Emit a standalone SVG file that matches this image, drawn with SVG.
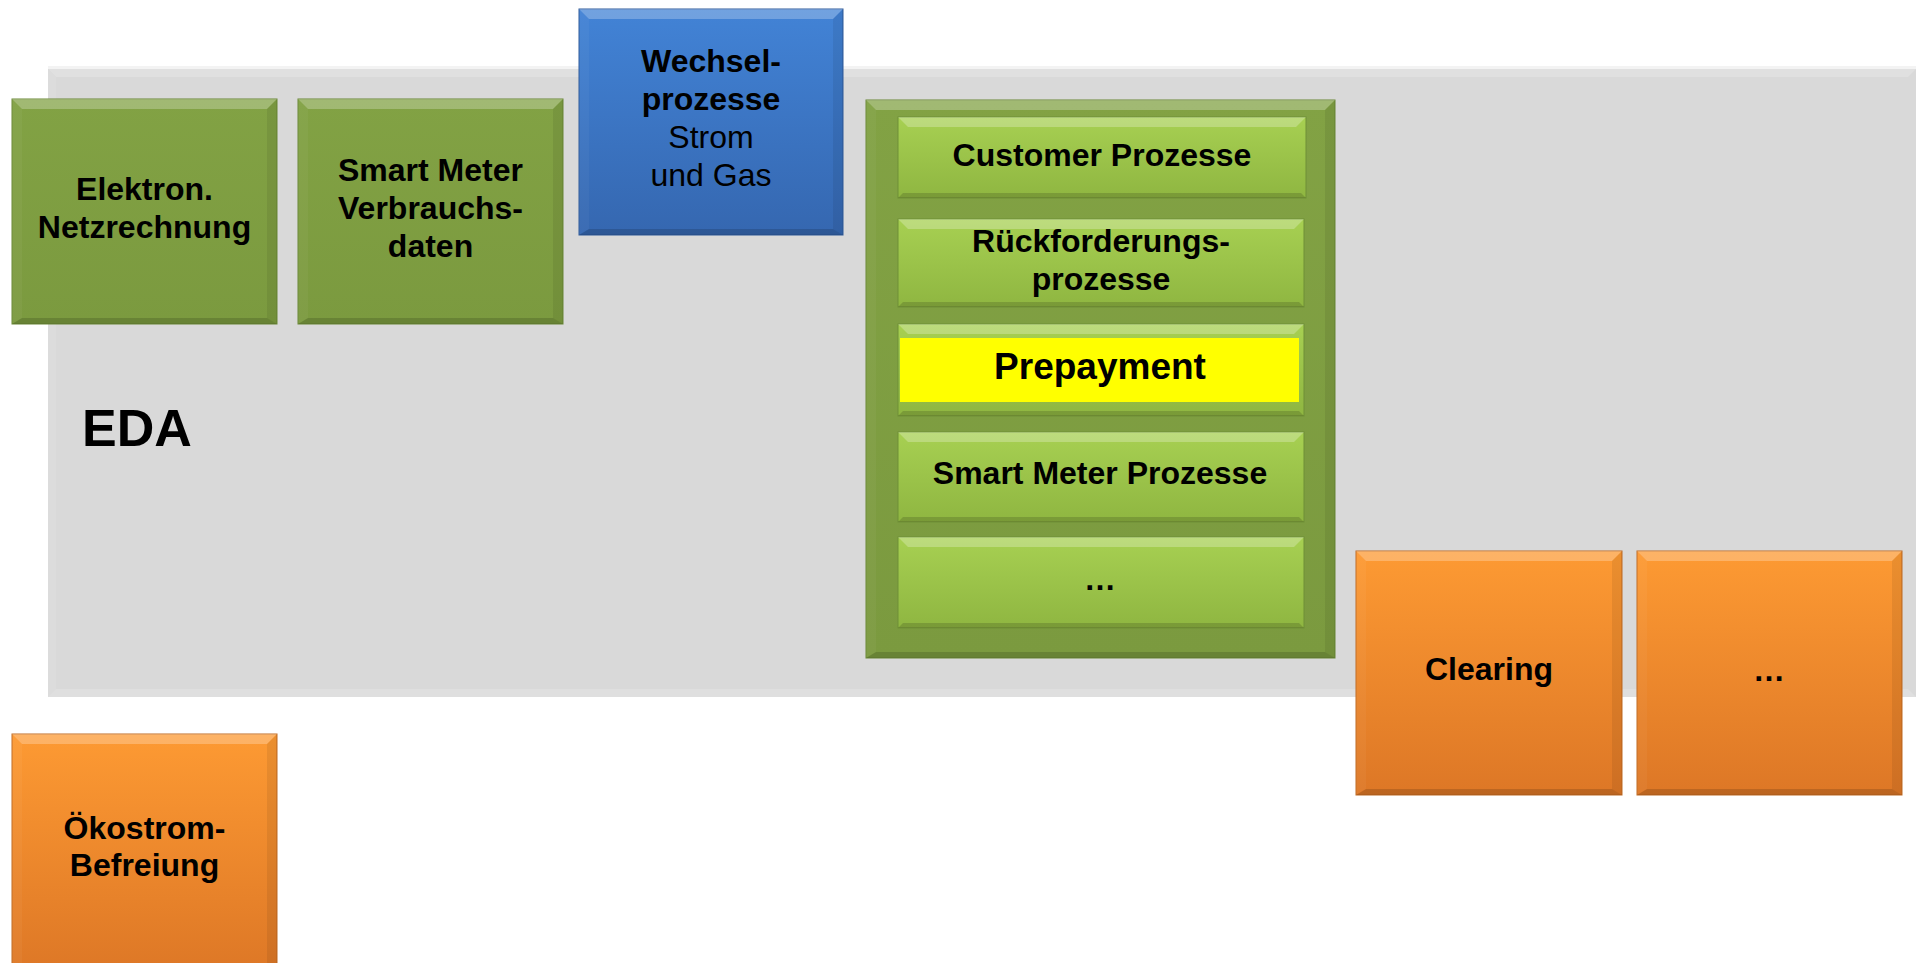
<svg xmlns="http://www.w3.org/2000/svg" width="1916" height="963" viewBox="0 0 1916 963">
<style>
text{font-family:"Liberation Sans",Arial,sans-serif;fill:#000;text-anchor:middle}
.b{font-weight:bold;font-size:32px}
.r{font-weight:normal;font-size:32px}
.pp{font-weight:bold;font-size:37px}
.eda{font-weight:bold;font-size:52px;text-anchor:start}
.hiT{fill:#ffffff;opacity:.25}
.shL{fill:#ffffff;opacity:.04}
.shR{fill:#000000;opacity:.07}
.shB{fill:#000000;opacity:.15}
</style>
<defs>
<linearGradient id="gGreen" x1="0" y1="0" x2="0" y2="1"><stop offset="0" stop-color="#82a244"/><stop offset="1" stop-color="#7b9a3f"/></linearGradient>
<linearGradient id="gBar" x1="0" y1="0" x2="0" y2="1"><stop offset="0" stop-color="#a7d052"/><stop offset="1" stop-color="#8fb641"/></linearGradient>
<linearGradient id="gBlue" x1="0" y1="0" x2="0" y2="1"><stop offset="0" stop-color="#4283d6"/><stop offset="1" stop-color="#3567b0"/></linearGradient>
<linearGradient id="gOrange" x1="0" y1="0" x2="0" y2="1"><stop offset="0" stop-color="#fd9a33"/><stop offset="1" stop-color="#dd7726"/></linearGradient>
</defs>

<g id="eda">
<rect x="48" y="66" width="1868" height="4" fill="#f3f3f3"/>
<rect x="48" y="69" width="1868" height="628" fill="#d9d9d9"/>
<polygon points="48,69 1916,69 1908,77 56,77" fill="#e0e0e0"/>
<polygon points="48,69 56,77 56,689 48,697" fill="#dcdcdc"/>
<polygon points="48,697 56,689 1908,689 1916,697" fill="#dfdfdf"/>
<text class="eda" x="82" y="446">EDA</text>
</g>

<g id="connectors"/>

<g id="elektron">
<rect x="12" y="99" width="265" height="225" fill="url(#gGreen)" stroke="#6a8836" stroke-width="1"/>
<polygon class="hiT" points="12,99 277,99 267,109 22,109"/>
<polygon class="shL" points="12,99 22,109 22,318 12,324"/>
<polygon class="shR" points="277,99 267,109 267,318 277,324"/>
<polygon class="shB" points="12,324 22,318 267,318 277,324"/>
<text class="b" x="144.5" y="200">Elektron.</text>
<text class="b" x="144.5" y="238">Netzrechnung</text>
</g>

<g id="smartmeter">
<rect x="298" y="99" width="265" height="225" fill="url(#gGreen)" stroke="#6a8836" stroke-width="1"/>
<polygon class="hiT" points="298,99 563,99 553,109 308,109"/>
<polygon class="shL" points="298,99 308,109 308,318 298,324"/>
<polygon class="shR" points="563,99 553,109 553,318 563,324"/>
<polygon class="shB" points="298,324 308,318 553,318 563,324"/>
<text class="b" x="430.5" y="181">Smart Meter</text>
<text class="b" x="430.5" y="219">Verbrauchs-</text>
<text class="b" x="430.5" y="257">daten</text>
</g>

<g id="wechsel">
<rect x="579" y="9" width="264" height="226" fill="url(#gBlue)" stroke="#2f5a9a" stroke-width="1"/>
<polygon class="hiT" points="579,9 843,9 833,19 589,19"/>
<polygon class="shL" points="579,9 589,19 589,229 579,235"/>
<polygon class="shR" points="843,9 833,19 833,229 843,235"/>
<polygon class="shB" points="579,235 589,229 833,229 843,235"/>
<text class="b" x="711" y="72">Wechsel-</text>
<text class="b" x="711" y="110">prozesse</text>
<text class="r" x="711" y="148">Strom</text>
<text class="r" x="711" y="186">und Gas</text>
</g>

<g id="prozesse">
<rect x="866" y="100" width="469" height="558" fill="url(#gGreen)" stroke="#6a8836" stroke-width="1"/>
<polygon class="hiT" points="866,100 1335,100 1325,110 876,110"/>
<polygon class="shL" points="866,100 876,110 876,652 866,658"/>
<polygon class="shR" points="1335,100 1325,110 1325,652 1335,658"/>
<polygon class="shB" points="866,658 876,652 1325,652 1335,658"/>
</g>

<g id="customer">
<rect x="898" y="117" width="408" height="81" fill="url(#gBar)" stroke="#6f8f37" stroke-width="1"/>
<polygon class="hiT" points="898,117 1306,117 1296,127 908,127"/>
<polygon class="shB" points="898,198 903,193 1301,193 1306,198"/>
<text class="b" x="1102" y="166">Customer Prozesse</text>
</g>

<g id="rueckforderung">
<rect x="898" y="219" width="406" height="88" fill="url(#gBar)" stroke="#6f8f37" stroke-width="1"/>
<polygon class="hiT" points="898,219 1304,219 1294,229 908,229"/>
<polygon class="shB" points="898,307 903,302 1299,302 1304,307"/>
<text class="b" x="1101" y="252">Rückforderungs-</text>
<text class="b" x="1101" y="290">prozesse</text>
</g>

<g id="prepayment">
<rect x="898" y="324" width="406" height="92" fill="url(#gBar)" stroke="#6f8f37" stroke-width="1"/>
<polygon class="hiT" points="898,324 1304,324 1294,334 908,334"/>
<polygon class="shB" points="898,416 903,411 1299,411 1304,416"/>
<rect x="900" y="338" width="399" height="64" fill="#ffff00"/>
<text class="pp" x="1100" y="379">Prepayment</text>
</g>

<g id="smartmeterprozesse">
<rect x="898" y="432" width="406" height="90" fill="url(#gBar)" stroke="#6f8f37" stroke-width="1"/>
<polygon class="hiT" points="898,432 1304,432 1294,442 908,442"/>
<polygon class="shB" points="898,522 903,517 1299,517 1304,522"/>
<text class="b" x="1100" y="484">Smart Meter Prozesse</text>
</g>

<g id="weitere">
<rect x="898" y="537" width="406" height="91" fill="url(#gBar)" stroke="#6f8f37" stroke-width="1"/>
<polygon class="hiT" points="898,537 1304,537 1294,547 908,547"/>
<polygon class="shB" points="898,628 903,623 1299,623 1304,628"/>
<text class="b" x="1100" y="590">…</text>
</g>

<g id="clearing">
<rect x="1356" y="551" width="266" height="244" fill="url(#gOrange)" stroke="#c06a22" stroke-width="1"/>
<polygon class="hiT" points="1356,551 1622,551 1612,561 1366,561"/>
<polygon class="shL" points="1356,551 1366,561 1366,789 1356,795"/>
<polygon class="shR" points="1622,551 1612,561 1612,789 1622,795"/>
<polygon class="shB" points="1356,795 1366,789 1612,789 1622,795"/>
<text class="b" x="1489" y="680">Clearing</text>
</g>

<g id="weitere2">
<rect x="1637" y="551" width="265" height="244" fill="url(#gOrange)" stroke="#c06a22" stroke-width="1"/>
<polygon class="hiT" points="1637,551 1902,551 1892,561 1647,561"/>
<polygon class="shL" points="1637,551 1647,561 1647,789 1637,795"/>
<polygon class="shR" points="1902,551 1892,561 1892,789 1902,795"/>
<polygon class="shB" points="1637,795 1647,789 1892,789 1902,795"/>
<text class="b" x="1769" y="681">…</text>
</g>

<g id="oekostrom">
<rect x="12" y="734" width="265" height="240" fill="url(#gOrange)" stroke="#c06a22" stroke-width="1"/>
<polygon class="hiT" points="12,734 277,734 267,744 22,744"/>
<polygon class="shL" points="12,734 22,744 22,974 12,974"/>
<polygon class="shR" points="277,734 267,744 267,974 277,974"/>
<text class="b" x="144.5" y="839">Ökostrom-</text>
<text class="b" x="144.5" y="876">Befreiung</text>
</g>
</svg>
